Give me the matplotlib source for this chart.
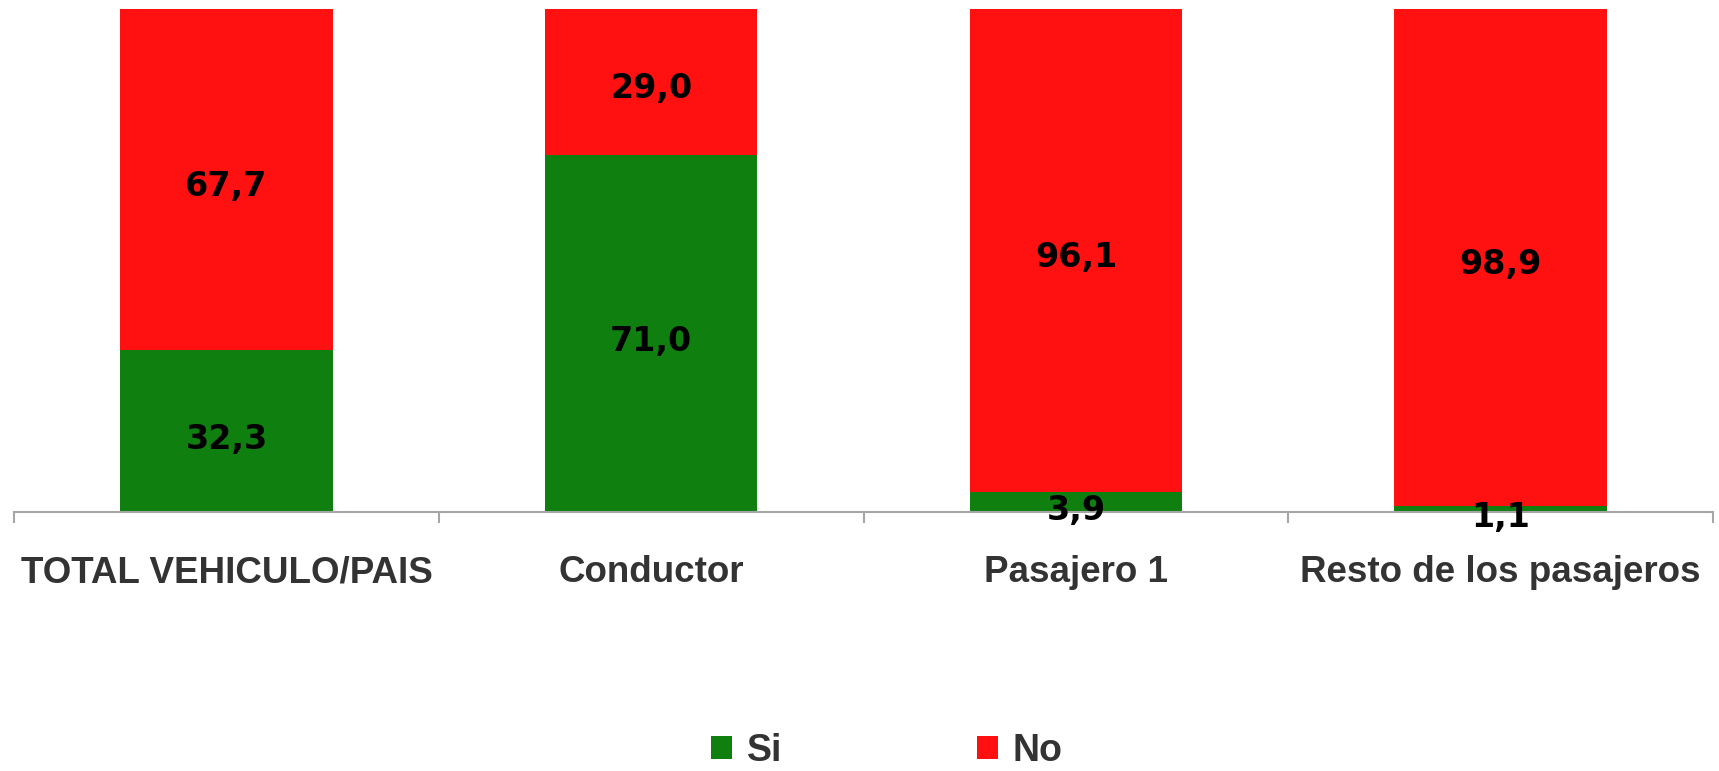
import matplotlib
matplotlib.use("Agg")
import matplotlib.pyplot as plt
from matplotlib.patches import Patch

categories = ["TOTAL VEHICULO/PAIS", "Conductor", "Pasajero 1", "Resto de los pasajeros"]
si_values = [32.3, 71.0, 3.9, 1.1]
no_values = [67.7, 29.0, 96.1, 98.9]
series_names = ["Si", "No"]
colors = ["#0F7F0F", "#FF1111"]

plt.rcParams['font.family'] = ['Liberation Sans', 'DejaVu Sans']

fig = plt.figure(figsize=(17.19, 7.71), dpi=100)
ax = fig.add_axes([14/1719, 1-512/771, (1713-14)/1719, (512-9)/771])

x = list(range(len(categories)))
ax.bar(x, si_values, width=0.5, color=colors[0])
ax.bar(x, no_values, width=0.5, bottom=si_values, color=colors[1])

def fmt(v):
    return f"{v:.1f}".replace(".", ",")

lab_font = dict(fontsize=24, fontweight="bold", color="black", family="DejaVu Sans")
for i in x:
    s, n = si_values[i], no_values[i]
    ax.annotate(fmt(s), (i, s/2), xytext=(0, -6), textcoords="offset points",
                ha="center", va="center", **lab_font)
    ax.annotate(fmt(n), (i, s + n/2), xytext=(0, -5), textcoords="offset points",
                ha="center", va="center", **lab_font)

ax.set_xlim(-0.5, len(categories) - 0.5)
ax.set_ylim(0, 100)
ax.set_yticks([])
for sp in ["top", "right", "left"]:
    ax.spines[sp].set_visible(False)
ax.spines["bottom"].set_color("#A6A6A6")
ax.spines["bottom"].set_linewidth(1.5)

ax.set_xticks(x)
ax.set_xticklabels(categories, fontsize=26.5, fontweight="bold", color="#333333")
ax.tick_params(axis="x", which="major", length=0, pad=31)
ax.set_xticks([i - 0.5 for i in range(len(categories) + 1)], minor=True)
ax.tick_params(axis="x", which="minor", length=8, width=1.5, color="#A6A6A6")

handles = [Patch(facecolor=c, edgecolor="none") for c in colors]
leg = fig.legend(handles, series_names, loc="center", bbox_to_anchor=(0.516, 0.026),
                 ncol=2, frameon=False, handlelength=0.55, handleheight=0.55,
                 handletextpad=0.4, columnspacing=5.2,
                 prop={"size": 27, "weight": "bold"})
for t in leg.get_texts():
    t.set_color("#333333")

fig.savefig("out.png", dpi=100)
